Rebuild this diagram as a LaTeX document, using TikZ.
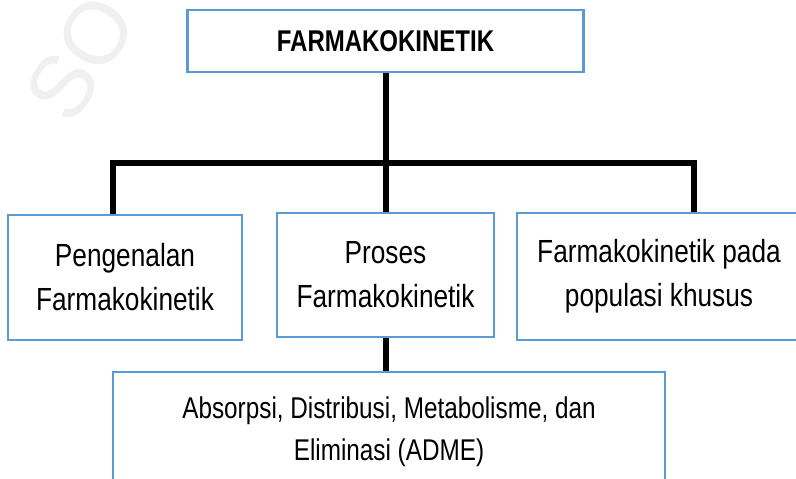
\documentclass[tikz,border=0pt]{standalone}
\usepackage{fontspec}
\setmainfont{Liberation Sans}
\newfontfamily\boxfont[FakeStretch=0.82]{Liberation Sans}
\newfontfamily\titlefont[FakeStretch=0.80]{Liberation Sans Bold}
\newfontfamily\admefont[FakeStretch=0.81]{Liberation Sans}
\definecolor{boxblue}{RGB}{91,155,213}
\definecolor{markgray}{RGB}{240,240,240}
\begin{document}
\begin{tikzpicture}[x=1pt,y=-1pt,
  box/.style={draw=boxblue,line width=2.2pt,inner sep=0pt,align=center},
  link/.style={line width=6pt,line join=miter},
  bodytext/.style={font=\boxfont\fontsize{32}{44}\selectfont}]
\useasboundingbox (0,0) rectangle (796,479);
\clip (0,0) rectangle (796,479);

% faint watermark
\node[text=markgray,rotate=58,font=\fontsize{88}{88}\selectfont] (wm) at (80,58) {SO};

% boxes
\node[box,minimum width=396pt,minimum height=62pt,
      font=\titlefont\fontsize{30}{36}\selectfont] (top) at (385.5,41) {FARMAKOKINETIK};
\node[box,bodytext,minimum width=234pt,minimum height=125pt] (pl) at (125,277.5)
  {Pengenalan\\Farmakokinetik};
\node[box,bodytext,minimum width=217pt,minimum height=124pt] (pm) at (385.5,275)
  {Proses\\Farmakokinetik};
\node[box,bodytext,minimum width=284pt,minimum height=127pt] (pr) at (659,276.5)
  {Farmakokinetik pada\\populasi khusus};
\node[box,minimum width=552pt,minimum height=120pt,
      font=\admefont\fontsize{30}{42}\selectfont] (pb) at (389,432)
  {Absorpsi, Distribusi, Metabolisme, dan\\Eliminasi (ADME)};

% connectors
\coordinate (bus) at (385.5,162.5);
\coordinate (jl) at (113,162.5);
\coordinate (jr) at (694,162.5);
\draw[link] (top.south) -- (bus) -- (pm.north);
\draw[link] (pl.north -| jl) |- (jr) -- (pr.north -| jr);
\draw[link] (pm.south) -- (pm.south |- pb.north);
\end{tikzpicture}
\end{document}
